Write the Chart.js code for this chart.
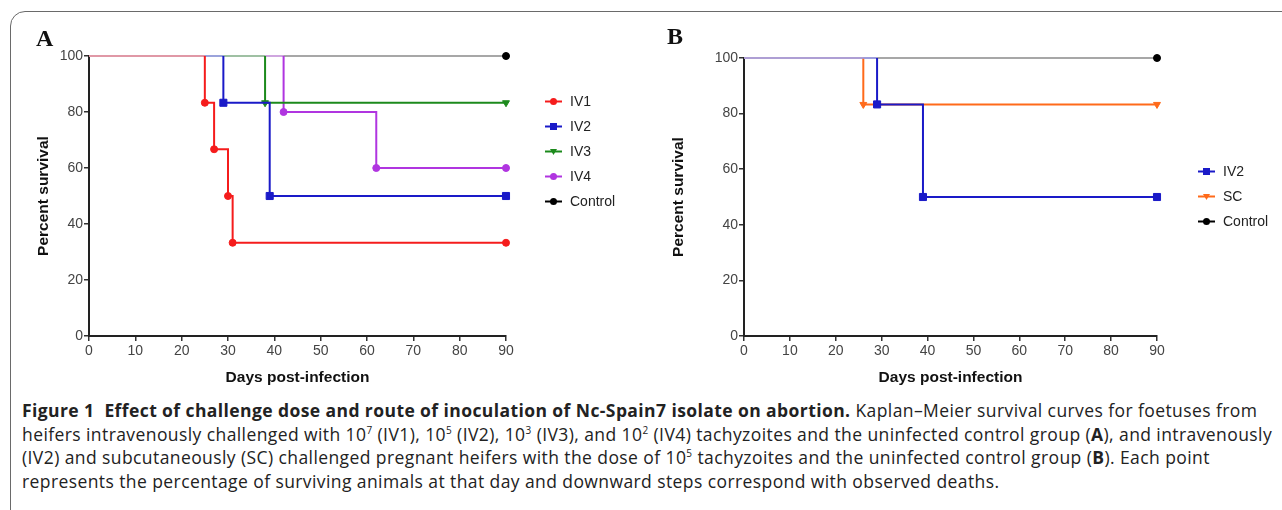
<!DOCTYPE html>
<html>
<head>
<meta charset="utf-8">
<script src="https://cdn.jsdelivr.net/npm/chart.js@4"></script>
<style>
    body { margin: 0; background: #fff; width: 1282px; height: 510px; overflow: hidden; position: relative; font-family: "Liberation Sans", Arial, sans-serif; }
    .frame { position: absolute; left: 10px; top: 11px; width: 1300px; height: 520px; border: 1.5px solid #6a6a6a; border-radius: 15px; box-sizing: border-box; }
    canvas { position: absolute; top: 0; }
    #chartA { left: 0; }
    #chartB { left: 640px; }
    .letter { position: absolute; font-family: "Liberation Serif", "Times New Roman", serif; font-weight: bold; font-size: 24px; color: #111; }
    .legend { position: absolute; font-size: 14px; color: #222; }
    .legend div { height: 25px; line-height: 25px; white-space: nowrap; }
    .legend svg { vertical-align: middle; margin-right: 8px; position: relative; top: -1px; }
    .cap { position: absolute; left: 22px; top: 399px; font-family: "Open Sans", "Noto Sans", sans-serif; font-size: 17.5px; color: #222; line-height: 23.6px; }
    .cap span { display: block; white-space: nowrap; }
    .cap sup { font-size: 10px; line-height: 0; vertical-align: 7px; }
</style>
</head>
<body>
<div class="frame"></div>
<canvas id="chartA" width="640" height="390"></canvas>
<canvas id="chartB" width="642" height="390"></canvas>
<div class="letter" style="left:36px; top:25px;">A</div>
<div class="letter" style="left:667px; top:23px;">B</div>
<div class="legend" id="legendA" style="left:545px; top:89px;"></div>
<div class="legend" id="legendB" style="left:1198px; top:159px;"></div>
<div class="cap">
    <span><b>Figure 1&nbsp; Effect of challenge dose and route of inoculation of Nc-Spain7 isolate on abortion.</b> Kaplan–Meier survival curves for foetuses from</span>
    <span>heifers intravenously challenged with 10<sup>7</sup> (IV1), 10<sup>5</sup> (IV2), 10<sup>3</sup> (IV3), and 10<sup>2</sup> (IV4) tachyzoites and the uninfected control group (<b>A</b>), and intravenously</span>
    <span>(IV2) and subcutaneously (SC) challenged pregnant heifers with the dose of 10<sup>5</sup> tachyzoites and the uninfected control group (<b>B</b>). Each point</span>
    <span>represents the percentage of surviving animals at that day and downward steps correspond with observed deaths.</span>
</div>
<script>
// panel A: days of death and survival after each death
const daysIV1 = [25, 27, 30, 31];
const survIV1 = [83.3, 66.7, 50, 33.3];
const daysIV2 = [29, 39];
const survIV2 = [83.3, 50];
const daysIV3 = [38];
const survIV3 = [83.3];
const daysIV4 = [42, 62];
const survIV4 = [80, 60];
const daysControl = [];
const survControl = [];

// panel B
const daysIV2b = [29, 39];
const survIV2b = [83.3, 50];
const daysSC = [26];
const survSC = [83.3];

const endDay = 90;
const xTicks = [0, 10, 20, 30, 40, 50, 60, 70, 80, 90];
const yTicks = [0, 20, 40, 60, 80, 100];

// turn deaths into step points (corner points have no marker)
function kmPoints(days, surv) {
    let pts = [{ x: 0, y: 100, m: false }];
    let prev = 100;
    days.forEach((d, i) => {
        pts.push({ x: d, y: prev, m: false });
        pts.push({ x: d, y: surv[i], m: true });
        prev = surv[i];
    });
    pts.push({ x: endDay, y: prev, m: true });
    return pts;
}

function makeDataset(label, days, surv, color, light, style, radius) {
    return {
        label: label,
        data: kmPoints(days, surv),
        borderColor: color,
        backgroundColor: color,
        borderWidth: 2,
        pointStyle: style,
        pointRotation: style === 'triangle' ? 180 : 0,
        pointRadius: ctx => (ctx.raw && ctx.raw.m ? radius : 0),
        pointHoverRadius: 0,
        pointBorderWidth: 1,
        clip: false,
        segment: {
            borderColor: ctx => (ctx.p0.parsed.y === 100 && ctx.p1.parsed.y === 100 ? light : undefined),
            borderWidth: ctx => (ctx.p0.parsed.y === 100 && ctx.p1.parsed.y === 100 ? 1.5 : undefined)
        }
    };
}

function makeChart(canvas, datasets, pad, yWidth, yTitlePad) {
    new Chart(canvas, {
        type: 'line',
        data: { datasets: datasets },
        options: {
            responsive: false,
            animation: false,
            layout: { padding: pad },
            plugins: { legend: { display: false }, tooltip: { enabled: false } },
            scales: {
                x: {
                    type: 'linear',
                    min: 0,
                    max: 90,
                    afterFit: s => { s.height = 54; },
                    afterBuildTicks: s => { s.ticks = xTicks.map(v => ({ value: v })); },
                    grid: { drawOnChartArea: false, drawTicks: true, tickLength: 5, color: '#333', lineWidth: 1.5 },
                    border: { display: true, color: '#222', width: 2 },
                    ticks: { color: '#444', padding: 2, font: { family: 'Liberation Sans', size: 14 } },
                    title: { display: true, text: 'Days post-infection', color: '#111', padding: { top: 0, bottom: 3 }, font: { family: 'Liberation Sans', size: 15.5, weight: 'bold' } }
                },
                y: {
                    min: 0,
                    max: 100,
                    afterFit: s => { s.width = yWidth; },
                    afterBuildTicks: s => { s.ticks = yTicks.map(v => ({ value: v })); },
                    grid: { drawOnChartArea: false, drawTicks: true, tickLength: 5, color: '#333', lineWidth: 1.5 },
                    border: { display: true, color: '#222', width: 2 },
                    ticks: { color: '#444', padding: 1, font: { family: 'Liberation Sans', size: 14 } },
                    title: { display: true, text: 'Percent survival', color: '#111', padding: { top: yTitlePad, bottom: 0 }, font: { family: 'Liberation Sans', size: 15.5, weight: 'bold' } }
                }
            }
        }
    });
}

const seriesA = [
    makeDataset('IV1', daysIV1, survIV1, '#f51c1c', '#f79494', 'circle', 3.5),
    makeDataset('IV2', daysIV2, survIV2, '#1a1ac8', '#9a9aee', 'rect', 5),
    makeDataset('IV3', daysIV3, survIV3, '#1c8a1c', '#8fc98f', 'triangle', 4),
    makeDataset('IV4', daysIV4, survIV4, '#b035e0', '#dca6f2', 'circle', 3.5),
    makeDataset('Control', daysControl, survControl, '#000000', '#8a8a8a', 'circle', 3.5)
];
const seriesB = [
    makeDataset('IV2', daysIV2b, survIV2b, '#1a1ac8', '#9a9aee', 'rect', 5),
    makeDataset('SC', daysSC, survSC, '#ff6a1a', '#ffb080', 'triangle', 4),
    makeDataset('Control', daysControl, survControl, '#000000', '#8a8a8a', 'circle', 3.5)
];

makeChart(document.getElementById('chartA'), seriesA, { left: 0, top: 56, right: 134, bottom: 0 }, 89, 34);
makeChart(document.getElementById('chartB'), seriesB, { left: 0, top: 58, right: 125, bottom: 0 }, 104, 29);

function markerSvg(ds) {
    const c = ds.borderColor;
    let m;
    if (ds.pointStyle === 'rect') m = `<rect x="5" y="3" width="7" height="7" fill="${c}"/>`;
    else if (ds.pointStyle === 'triangle') m = `<polygon points="5,4 12,4 8.5,10" fill="${c}"/>`;
    else m = `<circle cx="8.5" cy="6.5" r="3.5" fill="${c}"/>`;
    return `<svg width="17" height="13"><line x1="0" y1="6.5" x2="17" y2="6.5" stroke="${c}" stroke-width="2"/>${m}</svg>`;
}

function buildLegend(el, series) {
    el.innerHTML = series.map(ds => `<div>${markerSvg(ds)}${ds.label}</div>`).join('');
}
buildLegend(document.getElementById('legendA'), seriesA);
buildLegend(document.getElementById('legendB'), seriesB);

// the second caption line runs to x=1272 in the printed figure; use the same spacing on every line
const capLines = document.querySelectorAll('.cap span');
const ref = capLines[1];
const range = document.createRange();
range.selectNodeContents(ref);
const spacing = ((1272 - 22) - range.getBoundingClientRect().width) / ref.textContent.length;
capLines.forEach(line => { line.style.letterSpacing = spacing.toFixed(3) + 'px'; });
</script>
</body>
</html>
